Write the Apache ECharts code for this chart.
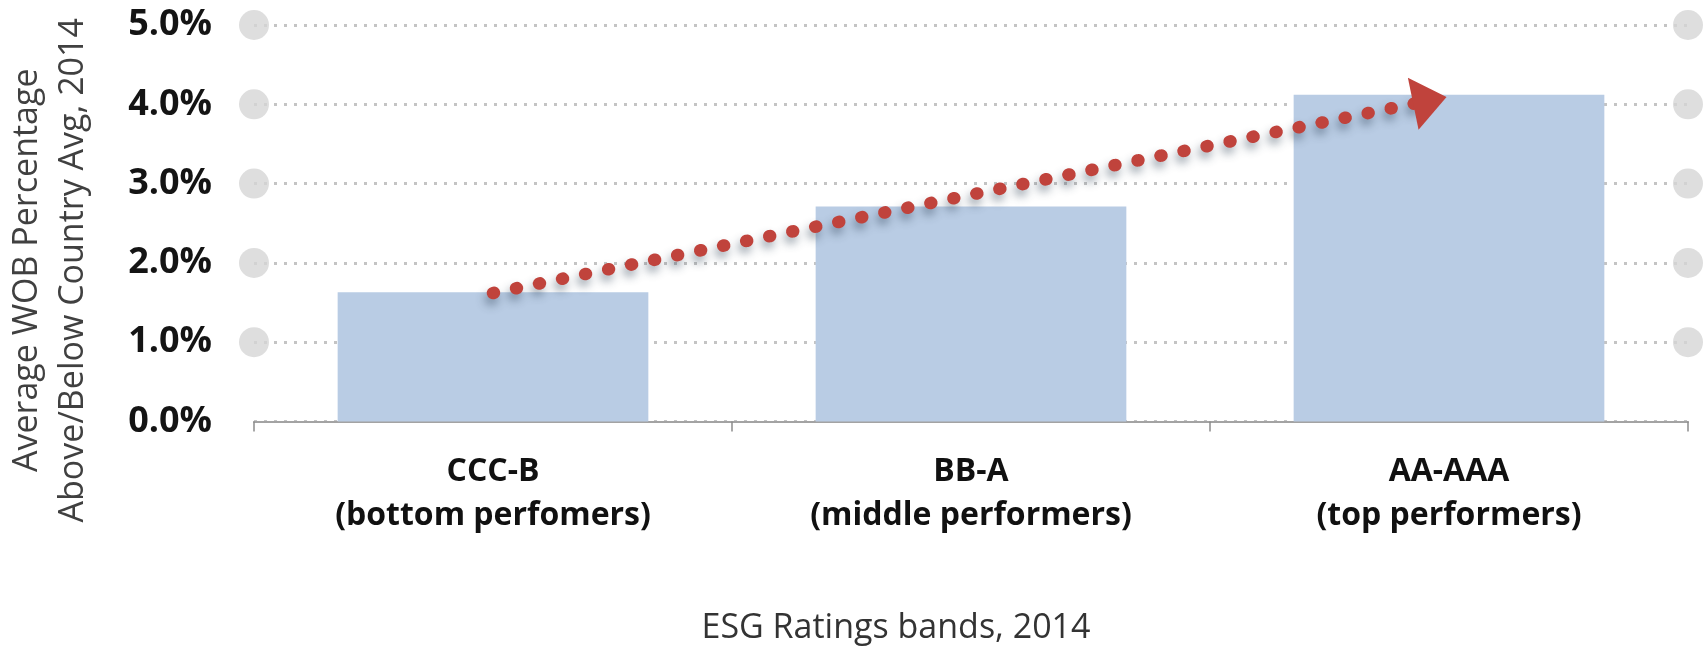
<!DOCTYPE html>
<html><head><meta charset="utf-8">
<script src="https://cdn.jsdelivr.net/npm/echarts@6/dist/echarts.min.js"></script>
<style>html,body{margin:0;padding:0;background:#fff}#c{width:1704px;height:646px}</style>
</head><body><div id="c"></div>
<script>
const categories = ['CCC-B\n(bottom perfomers)', 'BB-A\n(middle performers)', 'AA-AAA\n(top performers)'];
const values = [1.63, 2.71, 4.12];
const yTicks = [0, 1, 2, 3, 4, 5];
const markerLevels = [1, 2, 3, 4, 5];
const trendStart = [0.5, 1.62];
const trendEnd = [2.46, 4.05];
const yName = 'Average WOB Percentage\nAbove/Below Country Avg, 2014';
const xName = 'ESG Ratings bands, 2014';

const FONT = 'Open Sans';
const markerData = [];
markerLevels.forEach(v => { markerData.push([0, v]); markerData.push([categories.length, v]); });

const chart = echarts.init(document.getElementById('c'), null, {renderer: 'canvas'});
chart.setOption({
  animation: false,
  backgroundColor: '#ffffff',
  grid: {left: 254, right: 16, top: 25, bottom: 224.5, containLabel: false, outerBoundsMode: 'none'},
  xAxis: [{
    type: 'category',
    data: categories,
    boundaryGap: true,
    axisLine: {show: true, lineStyle: {color: '#a3a3a3', width: 2}},
    axisTick: {show: true, length: 10, lineStyle: {color: '#8c8c8c', width: 1.5}},
    axisLabel: {interval: 0, margin: 28, fontFamily: FONT, fontWeight: 'bold', fontSize: 32, lineHeight: 44, color: '#111111'},
    splitLine: {show: false},
    name: xName,
    nameLocation: 'middle',
    nameGap: 188,
    nameTextStyle: {fontFamily: FONT, fontSize: 34, lineHeight: 38, color: '#333333', padding: [0, 150, 0, 0]}
  }, {
    type: 'value',
    min: 0, max: categories.length,
    show: false
  }],
  yAxis: {
    type: 'value',
    min: yTicks[0], max: yTicks[yTicks.length - 1], interval: 1,
    axisLine: {show: false},
    axisTick: {show: false},
    axisLabel: {margin: 42, fontFamily: FONT, fontWeight: 'bold', fontSize: 36, color: '#141414',
      formatter: v => v.toFixed(1) + '%'},
    splitLine: {show: true, lineStyle: {color: '#c4c4c4', width: 3, type: [3, 7]}},
    name: yName,
    nameLocation: 'middle',
    nameRotate: 90,
    nameGap: 158,
    nameTextStyle: {fontFamily: FONT, fontSize: 34, lineHeight: 46, color: '#404040', padding: [0, 94, 0, 0]}
  },
  series: [{
    type: 'bar',
    data: values,
    barCategoryGap: '35%',
    itemStyle: {color: '#b9cce4'},
    silent: true
  }, {
    type: 'scatter',
    xAxisIndex: 1,
    data: markerData,
    symbol: 'circle',
    symbolSize: 30,
    clip: false,
    itemStyle: {color: '#d6d6d6'},
    silent: true,
    z: 5,
    markLine: {
      silent: true,
      animation: false,
      symbol: ['none', 'triangle'],
      label: {show: false},
      emphasis: {disabled: true},
      lineStyle: {color: '#c0433c', width: 12.5, type: [1, 22.5], cap: 'round', opacity: 1,
        shadowColor: 'rgba(40,60,80,0.45)', shadowBlur: 10, shadowOffsetX: -2, shadowOffsetY: 6},
      data: [[
        {coord: trendStart},
        {coord: trendEnd, symbol: 'triangle', symbolSize: [53, 34],
          itemStyle: {color: '#c8443c'}}
      ]]
    }
  }]
});
</script></body></html>
